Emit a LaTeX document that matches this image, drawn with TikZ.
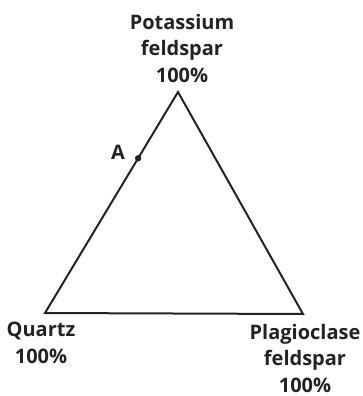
\documentclass[tikz,border=0pt]{standalone}
\usepackage{fontspec}
\setmainfont{Open Sans}
\usetikzlibrary{calc,positioning}
\definecolor{ink}{RGB}{35,35,35}

\begin{document}
\begin{tikzpicture}[x=1pt, y=-1pt, every node/.style={font=\bfseries\fontsize{20}{26.5}\selectfont, text=ink},
  lbl/.style={align=center, inner sep=0pt, anchor=base},
  side/.style={draw=ink, line width=2pt, line join=miter}]
\useasboundingbox (0,0) rectangle (363,396);
\coordinate (kf) at (178,92);
\coordinate (qz) at (45,313);
\coordinate (pl) at (303,314);
\draw[side] (qz) -- (kf) -- (pl) -- cycle;
\coordinate (ptA) at ($(qz)!0.70!(kf)$);
\fill[ink] (ptA) circle (3.2pt);
\node[lbl] (labA) at (118,159) {A};
\node[lbl] (kflab) at (182,82) {Potassium\\feldspar\\100\%};
\node[lbl] (qzlab) at (41,363) {Quartz\\100\%};
\node[lbl] (pllab) at (305,392) {Plagioclase\\feldspar\\100\%};
\end{tikzpicture}
\end{document}
